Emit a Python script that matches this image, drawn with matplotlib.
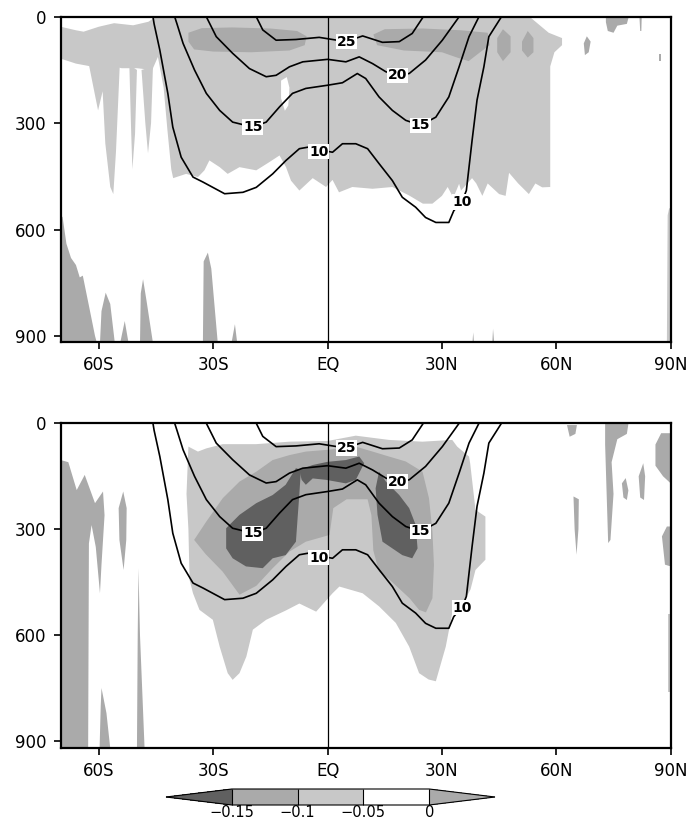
import matplotlib
matplotlib.use("Agg")
import matplotlib.pyplot as plt
import matplotlib.cm as cm
from matplotlib.colors import ListedColormap, BoundaryNorm

LIGHT = "#c8c8c8"
MID = "#aaaaaa"
DARK = "#606060"

lat_ticks = [-60, -30, 0, 30, 60, 90]
lat_labels = ["60S", "30S", "EQ", "30N", "60N", "90N"]
p_ticks = [0, 300, 600, 900]
shade_levels = [-0.15, -0.1, -0.05, 0]
shade_labels = ["\u22120.15", "\u22120.1", "\u22120.05", "0"]

# isolines (lat, hPa), same in both panels
c10_lat = [-45.8, -45.5, -44.0, -41.9, -40.6, -38.4, -35.3, -32.7, -27.0, -22.2, -18.7, -14.4, -10.9,
           -7.4, -4.8, -2.2, 1.3, 3.9, 7.4, 10.5, 13.5, 17.0, 19.6, 23.1, 25.7, 28.4, 31.8, 33.1,
           35.3, 36.4, 36.9, 37.9, 39.2, 41.0, 42.3, 45.6]
c10_p = [0, 20, 94, 216, 311, 396, 452, 466, 499, 495, 481, 443, 405,
         372, 367, 375, 382, 358, 358, 372, 414, 462, 509, 537, 566, 580, 580, 547,
         520, 490, 443, 349, 235, 141, 56, 0]
c15_lat = [-40.1, -39.5, -37.9, -34.9, -31.8, -28.3, -24.9, -19.6, -16.1, -12.6, -9.2, -5.7, 0, 3.9,
           5.7, 7.8, 10.0, 13.5, 17.0, 20.5, 24.4, 28.4, 31.8, 34.5, 37.1, 39.7]
c15_p = [0, 20, 75, 150, 216, 264, 297, 311, 297, 254, 216, 202, 193, 186,
         174, 160, 174, 226, 264, 292, 306, 283, 226, 141, 56, 0]
c20_lat = [-31.8, -29.2, -24.9, -20.5, -16.1, -13.5, -10.0, -6.5, 0, 4.8, 8.3, 11.8, 15.3, 18.3,
           21.4, 25.7, 30.1, 34.5]
c20_p = [0, 56, 103, 146, 169, 165, 141, 127, 120, 127, 113, 132, 155, 165,
         160, 122, 66, 0]
c25_lat = [-18.7, -17.0, -13.5, -8.3, -2.2, 4.8, 9.2, 14.4, 18.8, 22.2, 25.1]
c25_p = [0, 37, 66, 64, 58, 70, 54, 72, 70, 47, 0]

label_lat = [5.0, 18.3, -19.6, 24.4, -2.3, 35.3]
label_p = [70, 165, 311, 306, 380, 522]
label_txt = ["25", "20", "15", "15", "10", "10"]

# upper panel shading (lat, hPa)
top_light_band = [(-70, 28), (-66, 38), (-64, 42), (-60, 28), (-56, 18), (-51, 24), (-47, 14), (-45.5, 3),
                  (-44, 0), (-38, 0), (-38, 140), (-44.5, 113), (-46, 150), (-50, 145), (-54, 145),
                  (-58, 135), (-62, 140), (-66, 132), (-70, 118)]
top_light_f1 = [(-62.7, 130), (-60.2, 264), (-59, 210), (-58.3, 357), (-57, 480), (-56.2, 500),
                (-55.5, 380), (-54.5, 135)]
top_light_f2 = [(-52, 135), (-51.5, 330), (-51.2, 430), (-50.5, 330), (-50, 150)]
top_light_f3 = [(-48.8, 150), (-47.8, 300), (-47.1, 385), (-46.3, 300), (-45.8, 140)]
top_light_main = [(-45, 0), (53, 0), (55, 18), (58, 45), (61.5, 60), (61.5, 80), (59.5, 100), (58.4, 140),
                  (58.4, 480), (56.3, 481), (54.5, 470), (52.8, 500), (50, 470), (47.6, 440), (46.7, 505),
                  (45, 500), (42, 470), (40.6, 505), (39, 470), (37.9, 455), (35, 490), (34.5, 471),
                  (33, 510), (31.5, 480), (30, 505), (27.5, 527), (25, 527), (21.4, 504), (17, 480),
                  (11.8, 485), (6.5, 480), (3, 495), (1.3, 460), (-0.4, 480), (-3.9, 455), (-7.4, 490),
                  (-9.6, 462), (-10.9, 424), (-12.6, 391), (-15.3, 410), (-18.7, 433), (-23.1, 424),
                  (-26.2, 443), (-28.3, 424), (-31, 405), (-32.3, 433), (-34, 452), (-37.1, 443),
                  (-40.5, 455), (-41, 430), (-42, 320), (-43, 200), (-44.5, 113), (-45.5, 60)]
top_light_edge = [(89.2, 560), (89.6, 540), (90, 540), (90, 920), (89, 920)]
top_white_hole = [(-12.2, 180), (-10.7, 170), (-10, 200), (-10.3, 250), (-11.2, 265), (-12.2, 230)]
top_mid_left = [(-36.5, 45), (-33, 32), (-25, 30), (-15, 33), (-8, 40), (-5.5, 55), (-6, 80), (-10, 95),
                (-20, 100), (-30, 98), (-35, 92), (-36.5, 70)]
top_mid_right = [(12, 50), (15, 35), (25, 33), (35, 38), (42, 45), (42.5, 80), (40, 100), (37, 125),
                 (34, 115), (30, 100), (20, 95), (13, 80)]
top_mid_b1 = [(44.5, 60), (46, 35), (48, 55), (48, 100), (46, 125), (44.5, 100)]
top_mid_b2 = [(51, 70), (52.5, 40), (54, 60), (54, 100), (52.5, 115), (51, 95)]
top_mid_b3 = [(73, 0), (79, 0), (78.5, 20), (76, 25), (75, 45), (73.5, 40), (73, 15)]
top_mid_b4 = [(81.8, 0), (82.4, 0), (82.3, 40), (82, 40)]
top_mid_b5 = [(67.2, 75), (68, 55), (69, 70), (68.5, 100), (67.5, 108)]
top_mid_b6 = [(86.8, 105), (87.5, 105), (87.5, 125), (86.8, 125)]
top_mid_sw = [(-70, 560), (-69.5, 565), (-68.5, 640), (-67.3, 680), (-66, 700), (-65, 735), (-64.2, 730),
              (-62.5, 820), (-61, 900), (-60.5, 920), (-70, 920)]
top_mid_s1 = [(-59.7, 920), (-59.3, 830), (-58.2, 778), (-57, 810), (-55.8, 920)]
top_mid_s2 = [(-54.4, 920), (-53.2, 858), (-52.2, 920)]
top_mid_s3 = [(-49.2, 920), (-49, 780), (-48.4, 740), (-47.5, 800), (-45.8, 920)]
top_mid_s4 = [(-32.7, 920), (-32.5, 690), (-31.4, 665), (-30.5, 710), (-28.8, 920)]
top_mid_s5 = [(-25.2, 920), (-24.3, 867), (-23.7, 920)]
top_mid_s6 = [(38.0, 920), (38.2, 890), (38.4, 920)]
top_mid_s7 = [(43.2, 920), (43.4, 880), (43.7, 920)]

# lower panel shading (lat, hPa)
bot_light_main = [(-36.5, 66), (-34, 80), (-31.8, 71), (-27.5, 59), (-18.7, 59), (-10, 52), (0, 50),
                  (7.4, 35), (16.1, 47), (24.9, 52), (32.7, 47), (34, 66), (37.1, 94), (37.4, 113),
                  (38.8, 245), (41.4, 264), (41.4, 386), (38.8, 415), (37.5, 470), (35, 520),
                  (32.7, 537), (31, 632), (28.4, 730), (26.5, 725), (24, 707), (21.4, 632), (17.9, 565),
                  (13.5, 518), (9.2, 481), (3.1, 462), (1.3, 481), (-3, 533), (-7.4, 510), (-11, 530),
                  (-16.1, 556), (-19.6, 584), (-21.3, 660), (-23.1, 707), (-24.9, 726), (-26.2, 707),
                  (-28.3, 632), (-30.1, 556), (-33.6, 528), (-35.3, 481), (-36.2, 443), (-36.5, 300),
                  (-37, 200)]
bot_light_edge = [(89.4, 540), (90, 540), (90, 760), (89.4, 760)]
bot_mid_main = [(-35, 330), (-31.8, 278), (-27.5, 212), (-23.1, 165), (-18.7, 137), (-14.4, 104),
                (-10, 90), (-5.7, 80), (0, 75), (7.4, 66), (11.8, 80), (16.1, 94), (20.5, 108),
                (24.9, 137), (26.6, 212), (27.5, 306), (27.9, 401), (27.5, 495), (25.8, 535), (24, 528),
                (21.5, 495), (19, 470), (16, 440), (13.5, 420), (12, 360), (11.5, 260), (10.5, 215),
                (5, 215), (1.5, 240), (0.5, 316), (-5.7, 335), (-10, 363), (-14.4, 410), (-18.7, 460),
                (-23.1, 485), (-27.5, 420), (-32, 370)]
bot_dark_left = [(-26.6, 297), (-23.1, 259), (-18.7, 226), (-14.4, 203), (-11, 174), (-8.3, 127),
                 (-7, 132), (-7.4, 200), (-7.8, 259), (-8.3, 335), (-11, 373), (-14.4, 382), (-17, 410),
                 (-21.4, 405), (-24.9, 382), (-26.6, 354)]
bot_dark_right = [(13.5, 137), (15.3, 165), (18.8, 203), (21.4, 240), (23.1, 287), (23.6, 354),
                  (22.2, 382), (19.6, 373), (17, 354), (14.4, 335), (13.1, 259), (12.6, 184)]
bot_dark_arch = [(-7.4, 132), (-3.9, 118), (0, 109), (4.8, 104), (8.3, 94), (9.6, 113), (7.4, 160),
                 (4.8, 170), (-0.4, 160), (-3.9, 156), (-5.7, 174), (-6.8, 160)]
bot_mid_w1 = [(-70, 104), (-68, 110), (-65.8, 189), (-63.7, 146), (-61, 226), (-58.9, 193), (-58.5, 260),
              (-59.3, 400), (-59.7, 481), (-60.8, 350), (-61.9, 288), (-62.6, 340), (-62.8, 920),
              (-70, 920)]
bot_mid_w2 = [(-53.6, 193), (-52.7, 240), (-52.8, 330), (-53.5, 415), (-54.6, 330), (-54.8, 240)]
bot_mid_w3 = [(-50, 920), (-49.8, 600), (-49.6, 410), (-49.2, 600), (-48, 920)]
bot_mid_w4 = [(-59.8, 920), (-59.5, 800), (-59.3, 749), (-58, 820), (-57, 920)]
bot_mid_e1 = [(62.8, 5), (65.4, 5), (65, 30), (63.5, 38)]
bot_mid_e2 = [(64.5, 207), (65.9, 215), (65.8, 300), (65.3, 372), (64.8, 300)]
bot_mid_e3 = [(72.8, 2), (78.9, 2), (78.5, 30), (76, 45), (74.5, 110), (75, 200), (74.2, 330),
              (73.6, 339), (73.2, 200), (72.8, 60)]
bot_mid_e4 = [(77.2, 170), (78.2, 155), (78.9, 190), (78.5, 217), (77.6, 210)]
bot_mid_e5 = [(81.6, 150), (82.8, 113), (83.3, 150), (83, 217), (82, 210)]
bot_mid_e6 = [(86, 60), (87.5, 28), (90, 28), (90, 170), (88, 150), (86, 120)]
bot_mid_e7 = [(87.7, 320), (89, 292), (90, 292), (90, 405), (88.5, 400)]


def fill_poly(ax, poly, color):
    xs = [q[0] for q in poly]
    ys = [q[1] for q in poly]
    ax.fill(xs, ys, color=color, lw=0, zorder=1)


def draw_panel(ax, shading):
    for color, poly in shading:
        fill_poly(ax, poly, color)
    for lat, p in [(c10_lat, c10_p), (c15_lat, c15_p), (c20_lat, c20_p), (c25_lat, c25_p)]:
        ax.plot(lat, p, color="black", lw=1.2, zorder=3)
    ax.axvline(0, color="black", lw=0.9, zorder=3)
    for lat, p, t in zip(label_lat, label_p, label_txt):
        ax.text(lat, p, t, fontsize=10, fontweight="bold", ha="center", va="center", zorder=4,
                bbox=dict(boxstyle="square,pad=0.05", fc="white", ec="none"))
    ax.set_xlim(-70, 90)
    ax.set_ylim(918, 0)
    ax.set_xticks(lat_ticks)
    ax.set_xticklabels(lat_labels)
    ax.set_yticks(p_ticks)
    ax.tick_params(direction="out", length=5, width=1.2, labelsize=12, pad=5)
    for s in ax.spines.values():
        s.set_linewidth(1.6)


fig = plt.figure(figsize=(7.0, 8.21), dpi=100)
ax1 = fig.add_axes([60.7 / 700, 1 - 342.3 / 821, 610 / 700, 325.5 / 821])
ax2 = fig.add_axes([60.7 / 700, 1 - 747.7 / 821, 610 / 700, 324.4 / 821])

top_shading = [(LIGHT, top_light_band), (LIGHT, top_light_f1), (LIGHT, top_light_f2), (LIGHT, top_light_f3),
               (LIGHT, top_light_main), (LIGHT, top_light_edge), ("white", top_white_hole),
               (MID, top_mid_left), (MID, top_mid_right), (MID, top_mid_b1), (MID, top_mid_b2),
               (MID, top_mid_b3), (MID, top_mid_b4), (MID, top_mid_b5), (MID, top_mid_b6),
               (MID, top_mid_sw), (MID, top_mid_s1), (MID, top_mid_s2), (MID, top_mid_s3),
               (MID, top_mid_s4), (MID, top_mid_s5), (MID, top_mid_s6), (MID, top_mid_s7)]
bot_shading = [(LIGHT, bot_light_main), (LIGHT, bot_light_edge), (MID, bot_mid_main),
               (DARK, bot_dark_left), (DARK, bot_dark_right), (DARK, bot_dark_arch),
               (MID, bot_mid_w1), (MID, bot_mid_w2), (MID, bot_mid_w3), (MID, bot_mid_w4),
               (MID, bot_mid_e1), (MID, bot_mid_e2), (MID, bot_mid_e3), (MID, bot_mid_e4),
               (MID, bot_mid_e5), (MID, bot_mid_e6), (MID, bot_mid_e7)]

draw_panel(ax1, top_shading)
draw_panel(ax2, bot_shading)

# colour bar with triangles
cax = fig.add_axes([166 / 700, 1 - 805 / 821, 329 / 700, 16 / 821])
cmap = ListedColormap([MID, LIGHT, "white"])
cmap.set_under(DARK)
cmap.set_over(MID)
norm = BoundaryNorm(shade_levels, cmap.N)
cb = fig.colorbar(cm.ScalarMappable(norm=norm, cmap=cmap), cax=cax, orientation="horizontal",
                  extend="both", extendfrac=1 / 3, drawedges=True, ticks=shade_levels)
cb.ax.set_xticklabels(shade_labels)
cb.ax.tick_params(length=0, labelsize=10.5, pad=0)
cb.outline.set_linewidth(0.8)
cb.dividers.set_linewidth(0.8)

fig.savefig("out.png", dpi=100)
